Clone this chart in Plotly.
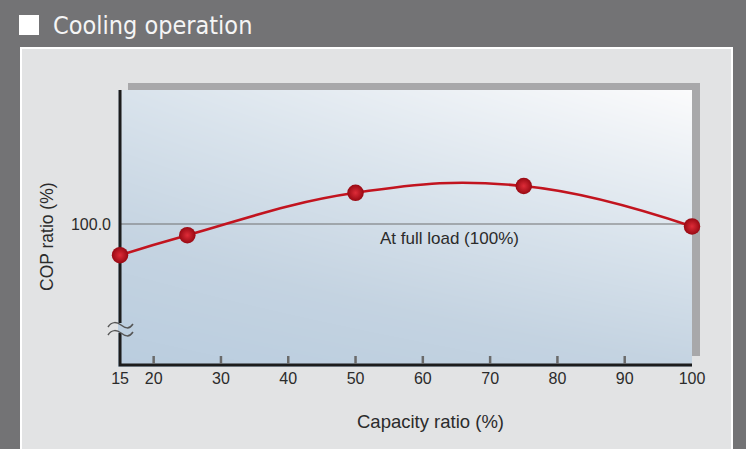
import plotly.graph_objects as go

# Cooling: COP ratio (%) against capacity ratio (%)
capacity = [15, 25, 50, 75, 100]
cop_ratio = [92.2, 97.2, 107.8, 109.5, 99.4]

x_tick_vals = [15, 20, 30, 40, 50, 60, 70, 80, 90, 100]
x_tick_text = [str(v) for v in x_tick_vals]
inner_ticks = [20, 30, 40, 50, 60, 70, 80, 90]
y_tick_vals = [100]
y_tick_text = ["100.0"]
full_load = 100.0

X_MIN, X_MAX = 15, 100
Y_MIN, Y_MAX = 64.75, 133.5
BREAK_HI, BREAK_LO = 75.25, 72.75   # gap in the y axis line

W, H = 746, 449
ML, MR, MT, MB = 118, 54, 90, 82


def px(x):
    """pixel column -> paper x"""
    return (x - ML) / (W - ML - MR)


def py(y):
    """pixel row -> paper y"""
    return (H - MB - y) / (H - MT - MB)


BASE_FONT = "Liberation Sans, Arial, Helvetica, sans-serif"
TEXT = "#2b2b2b"

fig = go.Figure()

# plot background gradient (light at top right, deeper blue at bottom left)
fig.add_trace(go.Heatmap(
    x=[X_MIN, X_MAX], y=[Y_MIN, Y_MAX],
    z=[[0.0, 0.25], [0.55, 1.0]],
    zsmooth="best", showscale=False, hoverinfo="skip",
    colorscale=[[0.0, "#bacddf"], [0.25, "#c4d3e1"],
                [0.55, "#d9e3ec"], [1.0, "#fbfbfc"]],
))

# full-load reference line
fig.add_trace(go.Scatter(
    x=[X_MIN, X_MAX], y=[full_load, full_load], mode="lines",
    line=dict(color="#707070", width=1.2), hoverinfo="skip", showlegend=False,
))

# axis lines, the y axis interrupted by the break mark
fig.add_trace(go.Scatter(
    x=[X_MIN, X_MIN, None, X_MIN, X_MIN, X_MAX],
    y=[Y_MAX, BREAK_HI, None, BREAK_LO, Y_MIN, Y_MIN],
    mode="lines", line=dict(color="#1c1c1c", width=3),
    hoverinfo="skip", showlegend=False,
))

# COP curve
fig.add_trace(go.Scatter(
    x=capacity, y=cop_ratio, mode="lines+markers",
    line=dict(color="#c2141f", width=2.6, shape="spline", smoothing=1.2),
    marker=dict(size=16.5, color="#980913",
                gradient=dict(type="radial", color="#de2c38"),
                line=dict(width=0)),
    cliponaxis=False, showlegend=False,
))

shapes = [
    # light panel
    dict(type="rect", xref="paper", yref="paper",
         x0=px(21), x1=px(732), y0=py(455), y1=py(48),
         fillcolor="#e2e3e4", line=dict(color="#ffffff", width=2), layer="below"),
    # shadow behind the plot frame
    dict(type="rect", xref="paper", yref="paper",
         x0=px(128), x1=px(700), y0=py(90), y1=py(83),
         fillcolor="#a8a8aa", line=dict(width=0), layer="below"),
    dict(type="rect", xref="paper", yref="paper",
         x0=px(692), x1=px(700), y0=py(356), y1=py(90),
         fillcolor="#a8a8aa", line=dict(width=0), layer="below"),
    # title square
    dict(type="rect", xref="paper", yref="paper",
         x0=px(19), x1=px(39), y0=py(35), y1=py(15),
         fillcolor="#ffffff", line=dict(width=0), layer="above"),
]

# inside tick marks on the x axis
for v in inner_ticks:
    shapes.append(dict(type="line", xref="x", yref="paper",
                       x0=v, x1=v, y0=py(364), y1=py(356),
                       line=dict(color="#6a6a6a", width=2.5), layer="above"))

# axis break mark (two waves)
for dy in (0, 8):
    path = (f"M {px(108)},{py(327 + dy)} "
            f"C {px(112)},{py(321 + dy)} {px(117)},{py(322 + dy)} {px(121)},{py(325 + dy)} "
            f"C {px(125)},{py(328 + dy)} {px(129)},{py(330 + dy)} {px(133)},{py(324 + dy)}")
    shapes.append(dict(type="path", xref="paper", yref="paper", path=path,
                       line=dict(color="#555555", width=1.5), layer="above"))

annotations = [
    dict(text="Cooling operation", xref="paper", yref="paper",
         x=px(51), y=py(25), xanchor="left", yanchor="middle", showarrow=False,
         font=dict(family="DejaVu Sans Condensed, Liberation Sans Narrow, sans-serif",
                   size=25, color="#f5f5f5")),
    dict(text="At full load (100%)", xref="paper", yref="paper",
         x=px(449), y=py(238), xanchor="center", yanchor="middle", showarrow=False,
         font=dict(family=BASE_FONT, size=17, color=TEXT)),
    dict(text="Capacity ratio (%)", xref="paper", yref="paper",
         x=px(430), y=py(421), xanchor="center", yanchor="middle", showarrow=False,
         font=dict(family=BASE_FONT, size=18.5, color=TEXT)),
    dict(text="COP ratio (%)", xref="paper", yref="paper", textangle=-90,
         x=px(47), y=py(237), xanchor="center", yanchor="middle", showarrow=False,
         font=dict(family=BASE_FONT, size=17.5, color=TEXT)),
]

fig.update_layout(
    width=W, height=H,
    margin=dict(l=ML, r=MR, t=MT, b=MB, pad=0),
    paper_bgcolor="#737375", plot_bgcolor="rgba(0,0,0,0)",
    font=dict(family=BASE_FONT, color=TEXT),
    showlegend=False,
    shapes=shapes, annotations=annotations,
    xaxis=dict(range=[X_MIN - 0.3, X_MAX], tickvals=x_tick_vals, ticktext=x_tick_text,
               ticks="", showgrid=False, zeroline=False, showline=False,
               tickfont=dict(size=16, color=TEXT), ticklabelstandoff=0, fixedrange=True),
    yaxis=dict(range=[Y_MIN - 0.5, Y_MAX], tickvals=y_tick_vals, ticktext=y_tick_text,
               ticks="", showgrid=False, zeroline=False, showline=False,
               tickfont=dict(size=16, color=TEXT), ticklabelstandoff=6, fixedrange=True),
)

fig.write_html("out.html")
